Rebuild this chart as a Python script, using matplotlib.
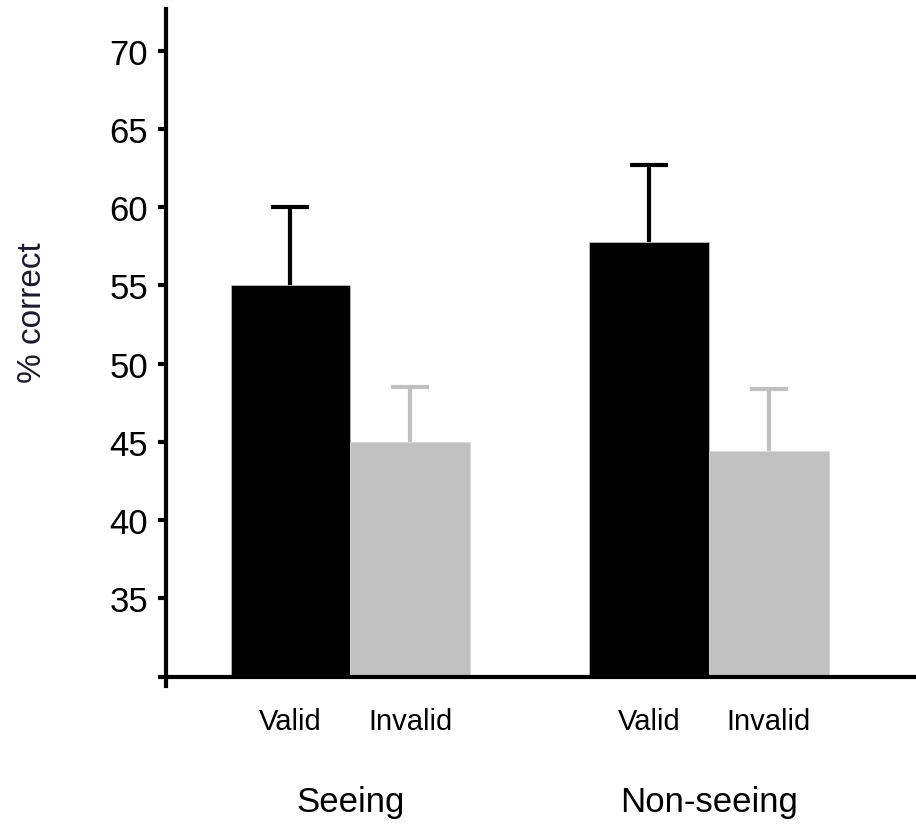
import matplotlib.pyplot as plt
import numpy as np

# ── Data ──────────────────────────────────────────────────────────────────────
groups = ['Seeing', 'Non-seeing']
conditions = ['Valid', 'Invalid']
valid_means = [55.0, 57.8]
invalid_means = [45.0, 44.4]
valid_err = [5.0, 4.9]
invalid_err = [3.5, 4.0]

yticks = [30, 35, 40, 45, 50, 55, 60, 65, 70]

# ── Setup ─────────────────────────────────────────────────────────────────────
plt.rcParams['font.family'] = ['Liberation Sans', 'DejaVu Sans']
fig = plt.figure(figsize=(9.16, 8.28), dpi=100)
ax = fig.add_axes([0.1812, 0.1703, 0.8188, 0.8176])

group_x = np.array([0.0, 3.0])
width = 1.0
black = '#000000'
gray = '#c0c0c0'

# ── Bars ──────────────────────────────────────────────────────────────────────
base = 30
ax.bar(group_x - width / 2, np.array(valid_means) - base, width, bottom=base,
       color=black, edgecolor='#bbbbbb', linewidth=0.6, zorder=2)
ax.bar(group_x + width / 2, np.array(invalid_means) - base, width, bottom=base,
       color=gray, edgecolor='#d8d8d8', linewidth=0.6, zorder=2)

# upward-only error bars (lower caps hidden)
for xs, means, errs, col in [(group_x - width / 2, valid_means, valid_err, black),
                             (group_x + width / 2, invalid_means, invalid_err, gray)]:
    eb = ax.errorbar(xs, means, yerr=[np.zeros(2), errs], fmt='none',
                     ecolor=col, elinewidth=3, capsize=14, capthick=3, zorder=3)
    eb[1][0].set_visible(False)

# ── Axes formatting ───────────────────────────────────────────────────────────
ax.set_xlim(-1.54, 4.73)
ax.set_ylim(29.4, 72.66)

ax.set_yticks(yticks)
ax.set_yticklabels([''] + [str(t) for t in yticks[1:]])
ax.tick_params(axis='y', length=6, width=3, pad=7, direction='out', labelsize=25)

xpos = np.concatenate([group_x - width / 2, group_x + width / 2])
xlabels = [conditions[0]] * 2 + [conditions[1]] * 2
ax.set_xticks(xpos)
ax.set_xticklabels(xlabels)
ax.tick_params(axis='x', length=0, pad=22, labelsize=21)

for gx, name in zip(group_x, groups):
    ax.text(gx, -0.17, name, transform=ax.get_xaxis_transform(),
            ha='center', va='center', fontsize=25)

ax.set_ylabel('% correct', fontsize=24, color='#1a1a2e')
ax.yaxis.set_label_coords(-0.157, 0.553)

ax.spines[['top', 'right']].set_visible(False)
ax.spines['bottom'].set_position(('data', base))
ax.spines['left'].set_linewidth(3)
ax.spines['bottom'].set_linewidth(3)

fig.savefig('out.png', dpi=100, facecolor='white')
